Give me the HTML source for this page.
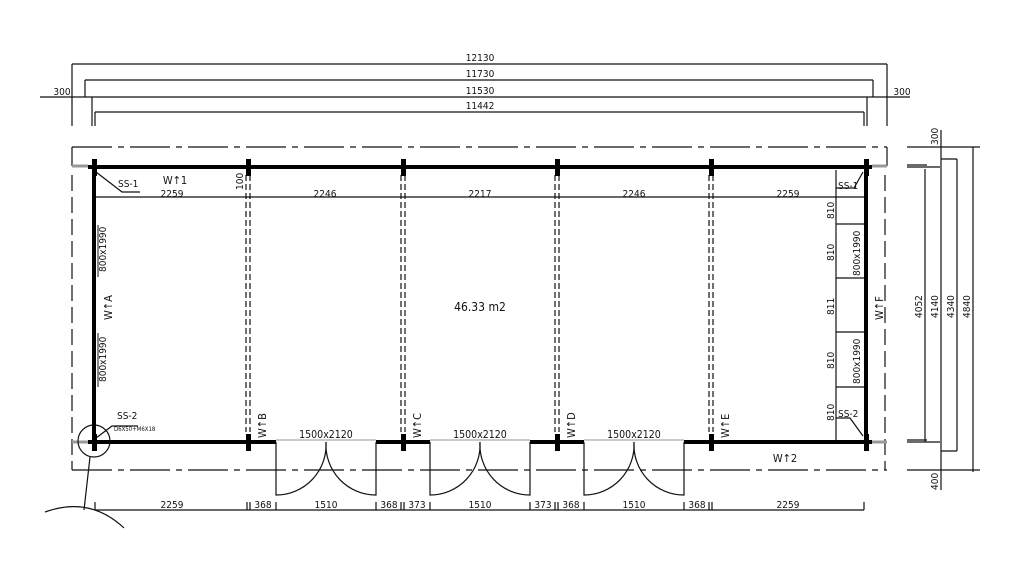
<!DOCTYPE html>
<html><head><meta charset="utf-8"><style>
html,body{margin:0;padding:0;background:#fff;width:1024px;height:576px;overflow:hidden}
svg{display:block}
text{font-family:"DejaVu Sans Condensed","Liberation Sans",sans-serif;font-size:10px;fill:#111}
</style></head><body>
<svg width="1024" height="576" viewBox="0 0 1024 576" xmlns="http://www.w3.org/2000/svg">
<g stroke="#111" stroke-width="1.2" fill="none">
<line x1="72" y1="64" x2="887" y2="64"/>
<line x1="85" y1="80" x2="873" y2="80"/>
<line x1="40" y1="97" x2="910" y2="97"/>
<line x1="95" y1="112" x2="864" y2="112"/>
<line x1="72" y1="64" x2="72" y2="126"/>
<line x1="85" y1="80" x2="85" y2="97"/>
<line x1="92" y1="97" x2="92" y2="126"/>
<line x1="95" y1="112" x2="95" y2="126"/>
<line x1="887" y1="64" x2="887" y2="126"/>
<line x1="873" y1="80" x2="873" y2="97"/>
<line x1="867" y1="97" x2="867" y2="126"/>
<line x1="864" y1="112" x2="864" y2="126"/>
<path d="M72 147 H887" stroke-dasharray="40 6 6 6"/>
<path d="M72 470 H887" stroke-dasharray="40 6 6 6"/>
<path d="M72 147 V166"/>
<path d="M72 175 V470" stroke-dasharray="16 6"/>
<path d="M887 147 V166"/>
<path d="M885 175 V470" stroke-dasharray="16 6"/>
<line x1="72" y1="166" x2="88" y2="166" stroke="#999" stroke-width="3"/>
<line x1="872" y1="166" x2="887" y2="166" stroke="#999" stroke-width="3"/>
<line x1="72" y1="442" x2="88" y2="442" stroke="#999" stroke-width="3"/>
<line x1="872" y1="442" x2="887" y2="442" stroke="#999" stroke-width="3"/>
<line x1="94" y1="197" x2="866" y2="197"/>
<line x1="836" y1="170" x2="836" y2="442"/>
<line x1="836" y1="224" x2="866" y2="224"/>
<line x1="836" y1="278" x2="866" y2="278"/>
<line x1="836" y1="332" x2="866" y2="332"/>
<line x1="836" y1="387" x2="866" y2="387"/>
<g stroke-dasharray="6 3">
<line x1="246" y1="175" x2="246" y2="432"/><line x1="250" y1="175" x2="250" y2="432"/>
<line x1="401" y1="175" x2="401" y2="432"/><line x1="405" y1="175" x2="405" y2="432"/>
<line x1="555" y1="175" x2="555" y2="432"/><line x1="559" y1="175" x2="559" y2="432"/>
<line x1="709" y1="175" x2="709" y2="432"/><line x1="713" y1="175" x2="713" y2="432"/>
</g>
<line x1="98" y1="225" x2="98" y2="277" stroke="#888" stroke-width="2"/>
<line x1="98" y1="333" x2="98" y2="387" stroke="#888" stroke-width="2"/>
<g>
<path d="M276 442 V495 A50 50 0 0 0 326 442"/><path d="M376 442 V495 A50 50 0 0 1 326 442"/>
<path d="M430 442 V495 A50 50 0 0 0 480 442"/><path d="M530 442 V495 A50 50 0 0 1 480 442"/>
<path d="M584 442 V495 A50 50 0 0 0 634 442"/><path d="M684 442 V495 A50 50 0 0 1 634 442"/>
</g>
<g stroke="#aaa"><line x1="276" y1="440" x2="376" y2="440"/><line x1="430" y1="440" x2="530" y2="440"/><line x1="584" y1="440" x2="684" y2="440"/></g>
<path d="M96 172 L122 192 H140"/>
<path d="M863 172 L854 188 H836"/>
<path d="M863 436 L850 418 H836"/>
<path d="M96 438 L112 426 H138"/>
<circle cx="94" cy="441" r="16"/>
<path d="M90 457 L84 510"/>
<path d="M45 512 Q90 496 124 528"/>
<line x1="95" y1="510" x2="864" y2="510"/>
<path d="M95 502V510M247 502V510M250 502V510M276 502V510M376 502V510M401 502V510M404 502V510M430 502V510M530 502V510M555 502V510M558 502V510M584 502V510M684 502V510M709 502V510M712 502V510M864 502V510"/>
<path d="M907 147 H980 M907 167 H940 M907 442 H940 M907 470 H980"/>
<path d="M907 165 H927 M907 440 H927" />
<line x1="925" y1="169" x2="925" y2="442"/>
<line x1="941" y1="130" x2="941" y2="490"/>
<line x1="957" y1="159" x2="957" y2="451"/>
<line x1="973" y1="147" x2="973" y2="472"/>
<path d="M941 159 H957 M941 451 H957"/>
</g>
<g stroke="#000" stroke-width="4" fill="none">
<line x1="88" y1="167" x2="872" y2="167"/>
<line x1="94" y1="165" x2="94" y2="444"/>
<line x1="866" y1="165" x2="866" y2="444"/>
<path d="M88 442 H276 M376 442 H430 M530 442 H584 M684 442 H872"/>
</g>
<g fill="#000">
<rect x="246" y="159" width="5" height="17"/><rect x="401" y="159" width="5" height="17"/>
<rect x="555" y="159" width="5" height="17"/><rect x="709" y="159" width="5" height="17"/>
<rect x="92" y="159" width="5" height="17"/><rect x="864" y="159" width="5" height="17"/>
<rect x="246" y="434" width="5" height="17"/><rect x="401" y="434" width="5" height="17"/>
<rect x="555" y="434" width="5" height="17"/><rect x="709" y="434" width="5" height="17"/>
<rect x="92" y="434" width="5" height="17"/><rect x="864" y="434" width="5" height="17"/>
</g>
<g text-anchor="middle">
<text x="480" y="61">12130</text>
<text x="480" y="77">11730</text>
<text x="480" y="94">11530</text>
<text x="480" y="109">11442</text>
<text x="62" y="95">300</text>
<text x="902" y="95">300</text>
<text x="172" y="197">2259</text>
<text x="325" y="197">2246</text>
<text x="480" y="197">2217</text>
<text x="634" y="197">2246</text>
<text x="788" y="197">2259</text>
<text x="480" y="311" style="font-size:12px">46.33 m2</text>
<text x="326" y="438" style="font-size:10.5px">1500x2120</text>
<text x="480" y="438" style="font-size:10.5px">1500x2120</text>
<text x="634" y="438" style="font-size:10.5px">1500x2120</text>
<text x="172" y="508">2259</text>
<text x="263" y="508">368</text>
<text x="326" y="508">1510</text>
<text x="389" y="508">368</text>
<text x="417" y="508">373</text>
<text x="480" y="508">1510</text>
<text x="543" y="508">373</text>
<text x="571" y="508">368</text>
<text x="634" y="508">1510</text>
<text x="697" y="508">368</text>
<text x="788" y="508">2259</text>
<text x="175" y="184" style="font-size:11px">W↑1</text>
<text x="785" y="462" style="font-size:11px">W↑2</text>
</g>
<text x="118" y="187" fill="#555">SS-1</text>
<text x="838" y="189" fill="#555">SS-1</text>
<text x="838" y="417" fill="#555">SS-2</text>
<text x="117" y="419" fill="#555">SS-2</text>
<text x="114" y="431" style="font-size:6px" fill="#555">D6X50+M6X18</text>
<g>
<text transform="translate(243,190) rotate(-90)">100</text>
<text transform="translate(106,272) rotate(-90)">800x1990</text>
<text transform="translate(106,382) rotate(-90)">800x1990</text>
<text transform="translate(112,320) rotate(-90)" style="font-size:11px">W↑A</text>
<text transform="translate(266,438) rotate(-90)" style="font-size:11px">W↑B</text>
<text transform="translate(421,438) rotate(-90)" style="font-size:11px">W↑C</text>
<text transform="translate(575,438) rotate(-90)" style="font-size:11px">W↑D</text>
<text transform="translate(729,438) rotate(-90)" style="font-size:11px">W↑E</text>
<text transform="translate(883,320) rotate(-90)" style="font-size:11px">W↑F</text>
<text transform="translate(860,276) rotate(-90)">800x1990</text>
<text transform="translate(860,384) rotate(-90)">800x1990</text>
<text transform="translate(834,219) rotate(-90)">810</text>
<text transform="translate(834,261) rotate(-90)">810</text>
<text transform="translate(834,315) rotate(-90)">811</text>
<text transform="translate(834,369) rotate(-90)">810</text>
<text transform="translate(834,421) rotate(-90)">810</text>
<text transform="translate(922,318) rotate(-90)">4052</text>
<text transform="translate(938,318) rotate(-90)">4140</text>
<text transform="translate(954,318) rotate(-90)">4340</text>
<text transform="translate(970,318) rotate(-90)">4840</text>
<text transform="translate(938,145) rotate(-90)">300</text>
<text transform="translate(938,490) rotate(-90)">400</text>
</g>
</svg>
</body></html>
